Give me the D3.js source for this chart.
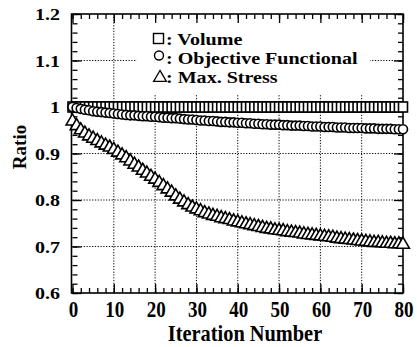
<!DOCTYPE html>
<html><head><meta charset="utf-8">
<script src="https://cdn.jsdelivr.net/npm/d3@7/dist/d3.min.js"></script>
<style>body{margin:0;background:#fff}svg{display:block}</style>
</head><body><svg id="c" width="417" height="347"></svg>
<script>
const iterations = [0,1,2,3,4,5,6,7,8,9,10,11,12,13,14,15,16,17,18,19,20,21,22,23,24,25,26,27,28,29,30,31,32,33,34,35,36,37,38,39,40,41,42,43,44,45,46,47,48,49,50,51,52,53,54,55,56,57,58,59,60,61,62,63,64,65,66,67,68,69,70,71,72,73,74,75,76,77,78,79,80];
const volume = [1,1,1,1,1,1,1,1,1,1,1,1,1,1,1,1,1,1,1,1,1,1,1,1,1,1,1,1,1,1,1,1,1,1,1,1,1,1,1,1,1,1,1,1,1,1,1,1,1,1,1,1,1,1,1,1,1,1,1,1,1,1,1,1,1,1,1,1,1,1,1,1,1,1,1,1,1,1,1,1,1];
const objective = [1.000,0.998,0.996,0.994,0.993,0.991,0.990,0.989,0.988,0.987,
0.986,0.985,0.984,0.983,0.982,0.982,0.981,0.980,0.980,0.979,
0.979,0.978,0.977,0.977,0.976,0.976,0.975,0.974,0.973,0.973,
0.972,0.971,0.971,0.970,0.970,0.969,0.968,0.968,0.967,0.967,
0.966,0.966,0.965,0.965,0.964,0.964,0.963,0.963,0.962,0.962,
0.962,0.961,0.961,0.960,0.960,0.960,0.959,0.959,0.958,0.958,
0.958,0.957,0.957,0.957,0.956,0.956,0.956,0.955,0.955,0.955,
0.955,0.954,0.954,0.954,0.953,0.953,0.953,0.953,0.952,0.952,0.952];
const maxStress = [0.972,0.962,0.953,0.946,0.940,0.935,0.930,0.925,0.920,0.916,
0.911,0.905,0.899,0.893,0.886,0.879,0.873,0.866,0.860,0.853,
0.847,0.840,0.833,0.826,0.819,0.811,0.804,0.798,0.792,0.787,
0.783,0.779,0.775,0.772,0.769,0.767,0.764,0.762,0.760,0.757,
0.755,0.753,0.751,0.749,0.747,0.745,0.743,0.741,0.740,0.738,
0.737,0.736,0.734,0.733,0.732,0.731,0.729,0.728,0.727,0.726,
0.725,0.724,0.723,0.722,0.720,0.719,0.718,0.717,0.716,0.715,
0.714,0.713,0.712,0.711,0.711,0.710,0.709,0.709,0.708,0.708,0.707];
const xTicks = [0,10,20,30,40,50,60,70,80];
const yTicks = [0.6,0.7,0.8,0.9,1,1.1,1.2];
const yTickLabels = ["0.6","0.7","0.8","0.9","1","1.1","1.2"];
const legendLabels = [": Volume", ": Objective Functional", ": Max. Stress"];
const xTitle = "Iteration Number";
const yTitle = "Ratio";

const FONT = "Liberation Serif";
const svg = d3.select("#c");
const L = 72.5, R = 403, T = 14, B = 293;
const x = d3.scaleLinear().domain([0,80]).range([L,R]);
const y = d3.scaleLinear().domain([0.6,1.2]).range([B,T]);

// gridlines (dotted)
const grid = svg.append("g").attr("stroke","#000").attr("stroke-width",1).attr("stroke-dasharray","1.2,1.6");
grid.selectAll("line.v").data(xTicks.slice(1,-1)).join("line").attr("class","v")
  .attr("x1",d=>x(d)).attr("x2",d=>x(d)).attr("y1",T).attr("y2",B);
grid.selectAll("line.h").data(yTicks.slice(1,-1)).join("line").attr("class","h")
  .attr("x1",L).attr("x2",R).attr("y1",d=>y(d)).attr("y2",d=>y(d));

// legend background
svg.append("rect").attr("x",137).attr("y",T+1).attr("width",233).attr("height",79).attr("fill","#fff");

// axes with inward ticks
function axisStyle(g){ g.select(".domain").remove(); g.selectAll("line").attr("stroke","#000").attr("stroke-width",1.3); g.selectAll("text").remove(); }
const minorX = d3.range(0,81,2), minorY = d3.range(0,31).map(i=>+(0.6+i*0.02).toFixed(2));
svg.append("g").attr("transform",`translate(0,${B})`).call(d3.axisBottom(x).tickValues(minorX).tickSize(-5)).call(axisStyle);
svg.append("g").attr("transform",`translate(0,${B})`).call(d3.axisBottom(x).tickValues(xTicks).tickSize(-9)).call(axisStyle);
svg.append("g").attr("transform",`translate(0,${T})`).call(d3.axisTop(x).tickValues(minorX).tickSize(-5)).call(axisStyle);
svg.append("g").attr("transform",`translate(0,${T})`).call(d3.axisTop(x).tickValues(xTicks).tickSize(-9)).call(axisStyle);
svg.append("g").attr("transform",`translate(${L},0)`).call(d3.axisLeft(y).tickValues(minorY).tickSize(-5)).call(axisStyle);
svg.append("g").attr("transform",`translate(${L},0)`).call(d3.axisLeft(y).tickValues(yTicks).tickSize(-9)).call(axisStyle);
svg.append("g").attr("transform",`translate(${R},0)`).call(d3.axisRight(y).tickValues(minorY).tickSize(-5)).call(axisStyle);
svg.append("g").attr("transform",`translate(${R},0)`).call(d3.axisRight(y).tickValues(yTicks).tickSize(-9)).call(axisStyle);

// frame
svg.append("rect").attr("x",L-1).attr("y",T).attr("width",R-L+1).attr("height",B-T).attr("fill","none").attr("stroke","#000").attr("stroke-width",1.6);

// tick labels
const tg = svg.append("g");
tg.selectAll("text.xt").data(xTicks).join("text").attr("class","xt")
  .attr("font-family",FONT).attr("font-weight","bold").attr("font-size",19)
  .attr("transform",d=>`translate(${x(d)+1},317) scale(1,1.17)`).attr("text-anchor","middle").text(d=>d);
tg.selectAll("text.yt").data(yTicks).join("text").attr("class","yt")
  .attr("font-family",FONT).attr("font-weight","bold").attr("font-size",20)
  .attr("transform",d=>`translate(60,${y(d)+6}) scale(1,0.88)`).attr("text-anchor","end").text((d,i)=>yTickLabels[i]);

// titles
tg.append("text").attr("font-family",FONT).attr("font-weight","bold").attr("font-size",21)
  .attr("transform","translate(245,341) scale(0.97,1.05)").attr("text-anchor","middle").text(xTitle);
tg.append("text").attr("font-family",FONT).attr("font-weight","bold").attr("font-size",19)
  .attr("transform","translate(26,147) rotate(-90)").attr("text-anchor","middle").text(yTitle);

// markers
const triPath = (cx,cy,s)=>`M${cx},${cy-s*0.55}L${cx+s*0.58},${cy+s*0.45}L${cx-s*0.58},${cy+s*0.45}Z`;
const mk = svg.append("g").attr("fill","#fff").attr("stroke","#000").attr("stroke-width",1.6);
mk.append("g").selectAll("rect").data(iterations).join("rect")
  .attr("x",(d,i)=>x(d)-4.5).attr("y",(d,i)=>y(volume[i])-5).attr("width",9).attr("height",10);
mk.append("g").selectAll("circle").data(iterations).join("circle")
  .attr("cx",(d,i)=>x(d)).attr("cy",(d,i)=>y(objective[i])).attr("r",4.5);
mk.append("g").selectAll("path").data(iterations).join("path")
  .attr("d",(d,i)=>triPath(x(d),y(maxStress[i]),11));

// legend
const lg = svg.append("g");
const rowsY = [45,64,83];
lg.append("rect").attr("x",153.5).attr("y",33.5).attr("width",10).attr("height",10).attr("fill","#fff").attr("stroke","#000").attr("stroke-width",1.4);
lg.append("circle").attr("cx",159).attr("cy",55.5).attr("r",4.5).attr("fill","#fff").attr("stroke","#000").attr("stroke-width",1.4);
lg.append("path").attr("d",triPath(160,76.5,11)).attr("fill","#fff").attr("stroke","#000").attr("stroke-width",1.3);
lg.selectAll("text").data(legendLabels).join("text")
  .attr("font-family",FONT).attr("font-weight","bold").attr("font-size",17)
  .attr("transform",(d,i)=>`translate(166,${rowsY[i]}) scale(1.18,1)`).text(d=>d);
</script></body></html>
